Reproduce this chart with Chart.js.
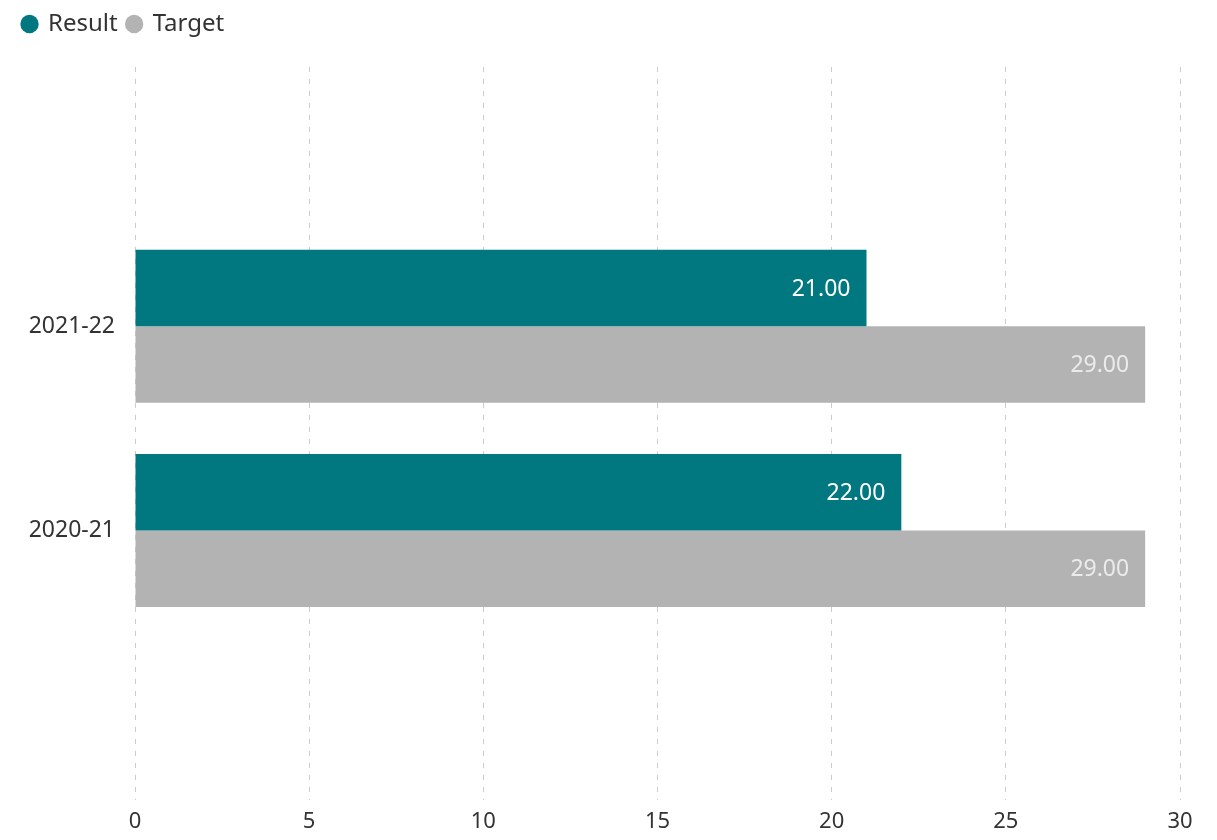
<!DOCTYPE html>
<html>
<head>
<meta charset="utf-8">
<script src="https://cdn.jsdelivr.net/npm/chart.js@4"></script>
<style>
  html, body { margin: 0; padding: 0; background: #fff; }
  #wrap { width: 1217px; height: 840px; }
</style>
</head>
<body>
<div id="wrap"><canvas id="bars"></canvas></div>
<script>
const categories = ['2021-22', '2020-21'];
const resultValues = [21, 22];
const targetValues = [29, 29];
const xTicks = [0, 5, 10, 15, 20, 25, 30];

const FONT = "'Noto Sans', 'Open Sans', sans-serif";

// value labels drawn at the inner end of each bar
const barLabels = {
  id: 'barLabels',
  afterDatasetsDraw(chart) {
    const ctx = chart.ctx;
    ctx.save();
    ctx.font = '23px ' + FONT;
    ctx.textAlign = 'right';
    ctx.textBaseline = 'middle';
    chart.data.datasets.forEach((ds, i) => {
      const meta = chart.getDatasetMeta(i);
      ctx.fillStyle = ds.labelColor;
      meta.data.forEach((bar, j) => {
        ctx.fillText(ds.data[j].x.toFixed(2), bar.x - 16, bar.y + 1);
      });
    });
    ctx.restore();
  }
};

// push the plot down a bit below the legend
const legendGap = {
  id: 'legendGap',
  beforeInit(chart) {
    const fit = chart.legend.fit;
    chart.legend.fit = function () {
      fit.bind(chart.legend)();
      this.height += 21;
    };
  }
};

const ctx = document.getElementById('bars');

let chart = new Chart(ctx, {
  type: 'bar',
  data: {
    datasets: [{
      label: 'Result',
      data: resultValues.map((v, i) => ({ x: v, y: i })),
      backgroundColor: '#017780',
      labelColor: '#ffffff'
    }, {
      label: 'Target',
      data: targetValues.map((v, i) => ({ x: v, y: i })),
      backgroundColor: '#b3b3b3',
      labelColor: '#ebebeb'
    }]
  },
  options: {
    indexAxis: 'y',
    responsive: true,
    maintainAspectRatio: false,
    animation: false,
    categoryPercentage: 0.75,
    barPercentage: 1.0,
    layout: { padding: { left: 13, right: 37, top: 2, bottom: 0 } },
    plugins: {
      tooltip: { enabled: false },
      legend: {
        position: 'top',
        align: 'start',
        labels: {
          usePointStyle: true,
          pointStyle: 'circle',
          boxWidth: 13,
          boxHeight: 13,
          padding: 10,
          color: '#333',
          font: { family: FONT, size: 24 }
        }
      }
    },
    scales: {
      x: {
        type: 'linear',
        min: 0,
        max: 30,
        afterBuildTicks: s => { s.ticks = xTicks.map(v => ({ value: v })); },
        afterFit: s => { s.height = 40; },
        ticks: { color: '#333', padding: 9, font: { family: FONT, size: 22 } },
        grid: { color: '#cccccc', lineWidth: 1, drawTicks: false },
        border: { display: false, dash: [5, 7] }
      },
      y: {
        type: 'linear',
        reverse: true,
        offset: false,
        min: -1.27,
        max: 2.32,
        afterBuildTicks: s => { s.ticks = categories.map((c, i) => ({ value: i })); },
        afterFit: s => { s.width = 122; },
        ticks: {
          color: '#333',
          padding: 12,
          font: { family: FONT, size: 23 },
          callback: v => categories[v]
        },
        grid: { display: false },
        border: { display: false }
      }
    }
  },
  plugins: [barLabels, legendGap]
});
</script>
</body>
</html>
